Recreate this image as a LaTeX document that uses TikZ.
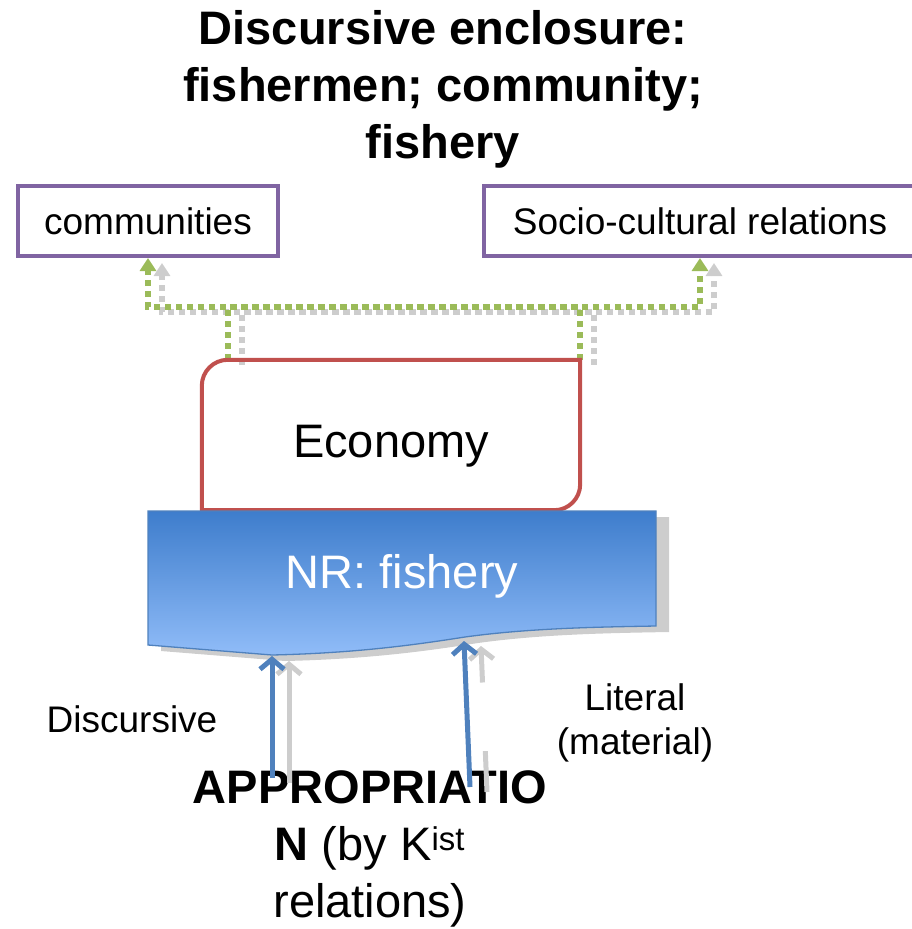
\documentclass[tikz,border=0pt]{standalone}
\usepackage{fontspec}
\setmainfont{Liberation Sans}
\usetikzlibrary{arrows.meta,calc}
\definecolor{boxpurple}{HTML}{8064A2}
\definecolor{ecored}{HTML}{C0504D}
\definecolor{linkgreen}{HTML}{9BBB59}
\definecolor{arrowblue}{HTML}{4F81BD}
\definecolor{shadegray}{HTML}{CDCDCD}
\definecolor{nrtop}{HTML}{3E7DCC}
\definecolor{nrbottom}{HTML}{90BCF8}
\tikzset{
  purplebox/.style={draw=boxpurple,line width=4pt,minimum height=70pt,inner sep=0pt,font=\fontsize{37}{44}\selectfont},
  ecobox/.style={draw=ecored,line width=4pt},
  greenlink/.style={draw=linkgreen,line width=5.5pt,dash pattern=on 6pt off 5pt,-{Triangle[length=13pt,width=16pt]}},
  graylink/.style={greenlink,draw=shadegray},
  bluearrow/.style={draw=arrowblue,line width=5pt,-{Straight Barb[length=10pt,width=24pt]}},
  grayarrow/.style={bluearrow,draw=shadegray},
  linkshadow/.style={transform canvas={xshift=14pt,yshift=-5pt}},
  arrowshadow/.style={transform canvas={xshift=17pt,yshift=-5pt}},
  bigtext/.style={font=\fontsize{47}{57}\selectfont,align=center,inner sep=0pt},
  smalltext/.style={font=\fontsize{37}{44}\selectfont,align=center,inner sep=0pt}
}

\begin{document}
\begin{tikzpicture}[x=1pt,y=-1pt]
\useasboundingbox (0,0) rectangle (912,929);

\node[bigtext,font=\bfseries\fontsize{47}{57}\selectfont,anchor=base] (title) at (443,158)
  {Discursive enclosure:\\fishermen; community;\\fishery};
\node[purplebox,minimum width=260pt] (comm) at (148,221) {communities};
\node[purplebox,minimum width=432pt] (socio) at (700,221) {Socio-cultural relations};

\node[bigtext,minimum width=378pt,minimum height=150pt,text height=44pt,text depth=0pt] (eco) at (391,435) {Economy};
\coordinate (ecol) at ([xshift=26pt]eco.north west);
\coordinate (ecor) at (eco.north east);

% shadows of the links
\begin{scope}[linkshadow]
\draw[graylink] (ecol) -- ++(0,-53) -| (socio.south);
\draw[graylink] (ecor) -- ++(0,-53) -| (comm.south);
\end{scope}
\draw[greenlink] (ecol) -- ++(0,-53) -| (socio.south);
\draw[greenlink] (ecor) -- ++(0,-53) -| (comm.south);

% round diagonal corners
\draw[ecobox] (eco.south west) -- ([yshift=-26pt]eco.north west)
  arc[start angle=180,end angle=90,radius=26pt] -- (eco.north east)
  -- ([yshift=26pt]eco.south east) arc[start angle=0,end angle=-90,radius=26pt] -- cycle;

% NR shape with shadow
\fill[shadegray,transform canvas={xshift=13pt,yshift=-6pt}] (148,511) -- (656,511) -- (656,626)
  .. controls (600,627) and (530,628) .. (465,637)
  .. controls (420,644) and (360,653) .. (272,655) -- (148,645) -- cycle;
\path[draw=arrowblue,line width=1.3pt,top color=nrtop,bottom color=nrbottom] (148,511) -- (656,511) -- (656,626)
  .. controls (600,627) and (530,628) .. (465,637)
  .. controls (420,644) and (360,653) .. (272,655) -- (148,645) -- cycle;
\node[bigtext,text=white,anchor=base] (nr) at (402,588) {NR: fishery};

\node[smalltext,anchor=base] (disc) at (132,732) {Discursive};
\node[smalltext,anchor=base] (lit) at (635,754) {Literal\\(material)};
\node[bigtext,anchor=base] (approp) at (370,917)
  {\textbf{APPROPRIATIO}\\\textbf{N} (by K\textsuperscript{ist}\\relations)};

\coordinate (b1) at (272,778);
\coordinate (b1t) at (272,656);
\coordinate (b2) at (470,787);
\coordinate (b2t) at (464,641);

\begin{scope}[arrowshadow]
\draw[grayarrow] (b1) -- (b1t);
\draw[grayarrow,-] (b2) -- ($(b2)!0.28!(b2t)$);
\draw[grayarrow] ($(b2)!0.75!(b2t)$) -- (b2t);
\end{scope}
\draw[bluearrow] (b1) -- (b1t);
\draw[bluearrow] (b2) -- (b2t);

\end{tikzpicture}
\end{document}
